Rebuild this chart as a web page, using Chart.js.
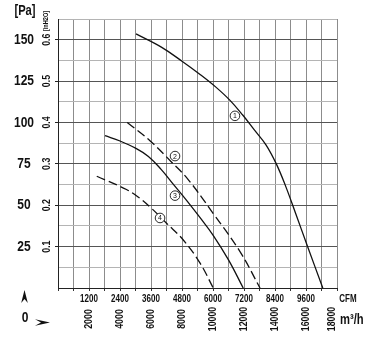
<!DOCTYPE html>
<html>
<head>
<meta charset="utf-8">
<title>Fan curve</title>
<script src="https://cdn.jsdelivr.net/npm/chart.js@4.4.0/dist/chart.umd.min.js"></script>
<style>
  html, body { margin: 0; padding: 0; background: #fff; }
</style>
</head>
<body>
<canvas id="fanChart" width="377" height="349"></canvas>
<script>
// curve values, x in CFM, y in Pa
var cfm1 = [3020, 4000, 4800, 5500, 6100, 6650, 7150, 7600, 8050, 8450, 8800, 9200, 9650, 10250];
var pa1  = [153.5, 145.5, 137, 129, 121.5, 113.5, 104.5, 95.5, 86.5, 75, 62, 45, 25.5, 0];
var cfm2 = [2680, 3560, 4400, 5040, 6010, 7045, 7820];
var pa2  = [100, 89, 76, 65.5, 45, 22, 0];
var cfm3 = [1820, 2400, 3000, 3500, 4000, 4500, 5000, 5500, 6000, 6600, 7170];
var pa3  = [92, 88.8, 84.5, 79.5, 71.5, 62, 52.5, 42.5, 32, 17, 0];
var cfm4 = [1500, 2650, 3100, 3560, 4210, 4850, 5500, 6010];
var pa4  = [67.5, 59.5, 55, 49, 39, 29, 15, 0];

// tick labels
var paTicks = [25, 50, 75, 100, 125, 150];
var inh2oTicks = ['0.1', '0.2', '0.3', '0.4', '0.5', '0.6'];
var cfmTicks = [1200, 2400, 3600, 4800, 6000, 7200, 8400, 9600];
var m3hTicks = ['2000', '4000', '6000', '8000', '10000', '12000', '14000', '16000', '18000'];
var m3hAt = [1200, 2400, 3600, 4800, 6000, 7200, 8400, 9600, 10600];

// curve numbers and where they sit (CFM, Pa)
var curveNames = ['1', '2', '3', '4'];
var curveLabelX = [6850, 4530, 4530, 3950];
var curveLabelY = [104, 79.7, 55.8, 42.3];

var FONT = "'Liberation Sans', Arial, sans-serif";

function pts(xs, ys) {
  var out = [];
  for (var i = 0; i < xs.length; i++) {
    out.push({ x: xs[i], y: ys[i] });
  }
  return out;
}

function curve(xs, ys, dashed) {
  return {
    data: pts(xs, ys),
    borderColor: '#111',
    borderWidth: 1.3,
    borderDash: dashed ? [9, 4] : [],
    pointRadius: 0,
    fill: false,
    tension: 0.4
  };
}

// squeezed text, the original uses a narrow face
function narrow(ctx, text, x, y, up) {
  ctx.save();
  ctx.translate(x, y);
  if (up) ctx.rotate(-Math.PI / 2);
  ctx.scale(0.8, 1);
  ctx.fillText(text, 0, 0);
  ctx.restore();
}

var axisText = {
  id: 'axisText',
  afterDraw: function(chart) {
    var ctx = chart.ctx;
    var xs = chart.scales.x;
    var ys = chart.scales.y;
    var bottom = chart.chartArea.bottom;
    ctx.save();
    ctx.fillStyle = '#111';
    ctx.textAlign = 'center';
    ctx.textBaseline = 'middle';

    // Pa and inH2O columns
    ctx.font = 'bold 15px ' + FONT;
    for (var i = 0; i < paTicks.length; i++) {
      narrow(ctx, String(paTicks[i]), 24, ys.getPixelForValue(paTicks[i]));
    }
    ctx.font = 'bold 14px ' + FONT;
    narrow(ctx, '[Pa]', 25, 11);
    ctx.font = 'bold 11px ' + FONT;
    for (var j = 0; j < inh2oTicks.length; j++) {
      narrow(ctx, inh2oTicks[j], 47, ys.getPixelForValue(paTicks[j]), true);
    }
    ctx.font = 'bold 7px ' + FONT;
    narrow(ctx, '[inH2O]', 46, 21, true);

    // CFM row
    ctx.font = 'bold 10px ' + FONT;
    for (var k = 0; k < cfmTicks.length; k++) {
      narrow(ctx, String(cfmTicks[k]), xs.getPixelForValue(cfmTicks[k]), bottom + 11);
    }
    narrow(ctx, 'CFM', 348, bottom + 11);

    // m3/h row, rotated
    ctx.font = 'bold 11px ' + FONT;
    for (var m = 0; m < m3hTicks.length; m++) {
      narrow(ctx, m3hTicks[m], xs.getPixelForValue(m3hAt[m]), bottom + 31, true);
    }
    ctx.font = 'bold 14px ' + FONT;
    ctx.textAlign = 'left';
    narrow(ctx, 'm\u00b3/h', 340, bottom + 32);

    // zero and the two little arrows
    ctx.textAlign = 'center';
    ctx.font = 'bold 15px ' + FONT;
    narrow(ctx, '0', 25, 318);
    ctx.beginPath();
    ctx.moveTo(24.5, 290);
    ctx.lineTo(27.8, 303);
    ctx.lineTo(24.5, 299);
    ctx.lineTo(21.2, 303);
    ctx.closePath();
    ctx.fill();
    ctx.beginPath();
    ctx.moveTo(50, 322.5);
    ctx.lineTo(35, 325.8);
    ctx.lineTo(41, 322.5);
    ctx.lineTo(35, 319.2);
    ctx.closePath();
    ctx.fill();

    // circled curve numbers
    ctx.lineWidth = 0.9;
    ctx.strokeStyle = '#111';
    ctx.font = '7px ' + FONT;
    for (var n = 0; n < curveNames.length; n++) {
      var cx = xs.getPixelForValue(curveLabelX[n]);
      var cy = ys.getPixelForValue(curveLabelY[n]);
      ctx.fillStyle = '#fff';
      ctx.beginPath();
      ctx.arc(cx, cy, 4.8, 0, Math.PI * 2);
      ctx.fill();
      ctx.stroke();
      ctx.fillStyle = '#111';
      ctx.fillText(curveNames[n], cx, cy + 0.5);
    }
    ctx.restore();
  }
};

var ctx = document.getElementById('fanChart').getContext('2d');
var fanChart = new Chart(ctx, {
  type: 'line',
  data: {
    datasets: [
      curve(cfm1, pa1, false),
      curve(cfm2, pa2, true),
      curve(cfm3, pa3, false),
      curve(cfm4, pa4, true)
    ]
  },
  options: {
    responsive: false,
    animation: false,
    layout: { padding: { top: 19, right: 40, left: 0, bottom: 0 } },
    plugins: {
      legend: { display: false },
      tooltip: { enabled: false }
    },
    scales: {
      x: {
        type: 'linear',
        min: 0,
        max: 10800,
        ticks: { display: false, stepSize: 600 },
        grid: { color: '#8c8c8c', lineWidth: 1, tickLength: 3, tickColor: '#333' },
        border: { color: '#222', width: 1 },
        afterFit: function(scale) { scale.height = 61; }
      },
      y: {
        type: 'linear',
        min: 0,
        max: 162.5,
        ticks: { display: false, stepSize: 12.5 },
        grid: {
          color: function(c) { return c.tick && c.tick.value % 25 === 0 ? '#555' : '#b4b4b4'; },
          tickLength: 3,
          tickColor: function(c) { return c.tick && c.tick.value % 25 === 0 && c.tick.value > 0 ? '#222' : 'rgba(0,0,0,0)'; }
        },
        border: { color: '#222', width: 1 },
        afterFit: function(scale) { scale.width = 58; }
      }
    }
  },
  plugins: [axisText]
});
</script>
</body>
</html>
